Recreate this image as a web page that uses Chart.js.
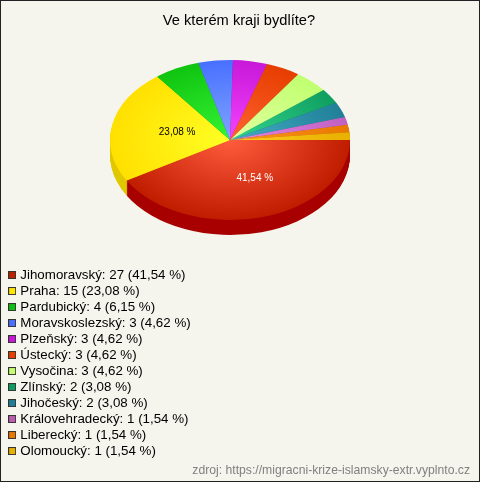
<!DOCTYPE html>
<html>
<head>
<meta charset="utf-8">
<style>
body { margin: 0; background: #f5f5ee; }
canvas { display: block; }
</style>
<script src="https://cdn.jsdelivr.net/npm/chart.js@4"></script>
</head>
<body>
<canvas id="myChart" width="480" height="482"></canvas>
<script>
const regions = ["Jihomoravský", "Praha", "Pardubický", "Moravskoslezský", "Plzeňský", "Ústecký",
    "Vysočina", "Zlínský", "Jihočeský", "Královehradecký", "Liberecký", "Olomoucký"];
const counts = [27, 15, 4, 3, 3, 3, 3, 2, 2, 1, 1, 1];

const edgeColors = ["#bf1c00", "#ffe000", "#10c410", "#4870ff", "#c818d8", "#e63e00",
    "#c0ff70", "#0f9f60", "#208098", "#c060c0", "#e87800", "#e8b000"];
const innerColors = ["#ff5c3e", "#ffff24", "#34f434", "#80a4ff", "#f444ff", "#ff6230",
    "#e2ffa0", "#34d490", "#44acc4", "#e484e4", "#ff9420", "#ffcc20"];
const sideColors = ["#a80000", "#e0c800", "#0a9a0a", "#3050c0", "#9a10a8", "#b03000",
    "#98c850", "#0a7848", "#186078", "#984898", "#b85c00", "#b88800"];
const swatchColors = ["#bb2200", "#ffe600", "#10c010", "#4a70ff", "#c818d8", "#e64000",
    "#c4ff70", "#109c60", "#1f7f96", "#bc5cb0", "#e87800", "#e8b000"];

const total = counts.reduce((a, b) => a + b, 0);
const percent = v => (v / total * 100).toFixed(2).replace(".", ",") + " %";

const cx = 230, cy = 140, rx = 120, ry = 80, depth = 15;

function swatch(color) {
    const c = document.createElement("canvas");
    c.width = 8;
    c.height = 8;
    const g = c.getContext("2d");
    g.fillStyle = color;
    g.fillRect(0, 0, 8, 8);
    g.strokeStyle = "#333";
    g.strokeRect(0.5, 0.5, 7, 7);
    return c;
}

function tilt(ctx, dy) {
    ctx.translate(cx, cy + dy);
    ctx.scale(1, ry / rx);
    ctx.translate(-cx, -cy);
}

const piePlugin = {
    id: "pie3d",
    beforeDraw(chart) {
        const ctx = chart.ctx;
        ctx.save();
        ctx.fillStyle = "#f5f5ee";
        ctx.fillRect(0, 0, 480, 482);
        ctx.strokeStyle = "#222";
        ctx.strokeRect(0.5, 0.5, 479, 481);
        ctx.restore();
    },
    afterLayout(chart) {
        // pie sits over the legend column, so it gets its own area
        chart.chartArea = {
            left: cx - rx, right: cx + rx, top: cy - rx, bottom: cy + rx,
            width: rx * 2, height: rx * 2
        };
    },
    beforeDatasetsDraw(chart) {
        const ctx = chart.ctx;
        const arcs = chart.getDatasetMeta(0).data;
        for (let d = depth; d >= 1; d--) {
            ctx.save();
            tilt(ctx, d);
            arcs.forEach((arc, i) => {
                const saved = arc.options;
                arc.options = Object.assign({}, saved, { backgroundColor: sideColors[i] });
                arc.draw(ctx);
                arc.options = saved;
            });
            ctx.restore();
        }
        ctx.save();
        tilt(ctx, 0);
    },
    afterDatasetsDraw(chart) {
        const ctx = chart.ctx;
        ctx.restore();
        const arcs = chart.getDatasetMeta(0).data;
        ctx.save();
        ctx.font = "10px 'Liberation Sans'";
        ctx.textAlign = "center";
        ctx.textBaseline = "middle";
        arcs.forEach((arc, i) => {
            if (counts[i] / total < 0.1) return;
            const p = arc.tooltipPosition();
            ctx.fillStyle = i === 0 ? "#ffffff" : "#000000";
            const nudge = i === 0 ? 9 : 6;
            ctx.fillText(percent(counts[i]), p.x + nudge, cy + (p.y - cy) * ry / rx);
        });
        ctx.restore();
    }
};

const myChart = new Chart(document.getElementById("myChart"), {
    type: "pie",
    plugins: [piePlugin],
    data: {
        labels: regions,
        datasets: [{
            data: counts,
            clip: false,
            borderWidth: 0,
            backgroundColor(c) {
                const g = c.chart.ctx.createRadialGradient(cx, cy, 0, cx, cy, rx);
                g.addColorStop(0, innerColors[c.dataIndex]);
                g.addColorStop(1, edgeColors[c.dataIndex]);
                return g;
            }
        }]
    },
    options: {
        responsive: false,
        animation: false,
        rotation: 90,
        layout: { padding: { left: 8, right: 10, top: 0, bottom: 0 } },
        plugins: {
            tooltip: { enabled: false },
            title: {
                display: true,
                text: "Ve kterém kraji bydlíte?",
                color: "#000",
                font: { family: "'Liberation Sans'", size: 14.67, weight: "normal" },
                padding: { top: 12, bottom: 8 }
            },
            subtitle: {
                display: true,
                position: "bottom",
                align: "end",
                text: "zdroj: https://migracni-krize-islamsky-extr.vyplnto.cz",
                color: "#808080",
                font: { family: "'Liberation Sans'", size: 12.2, weight: "normal" },
                padding: { top: 3, bottom: 4 }
            },
            legend: {
                position: "left",
                align: "end",
                fullSize: false,
                labels: {
                    usePointStyle: true,
                    pointStyleWidth: 3,
                    boxHeight: 8,
                    padding: 2.67,
                    color: "#000",
                    font: { family: "'Liberation Sans'", size: 13.33, lineHeight: 1 },
                    generateLabels() {
                        return regions.map((r, i) => ({
                            text: r + ": " + counts[i] + " (" + percent(counts[i]) + ")",
                            pointStyle: swatch(swatchColors[i]),
                            fontColor: "#000",
                            lineWidth: 0,
                            index: i
                        }));
                    }
                }
            }
        }
    }
});
</script>
</body>
</html>
